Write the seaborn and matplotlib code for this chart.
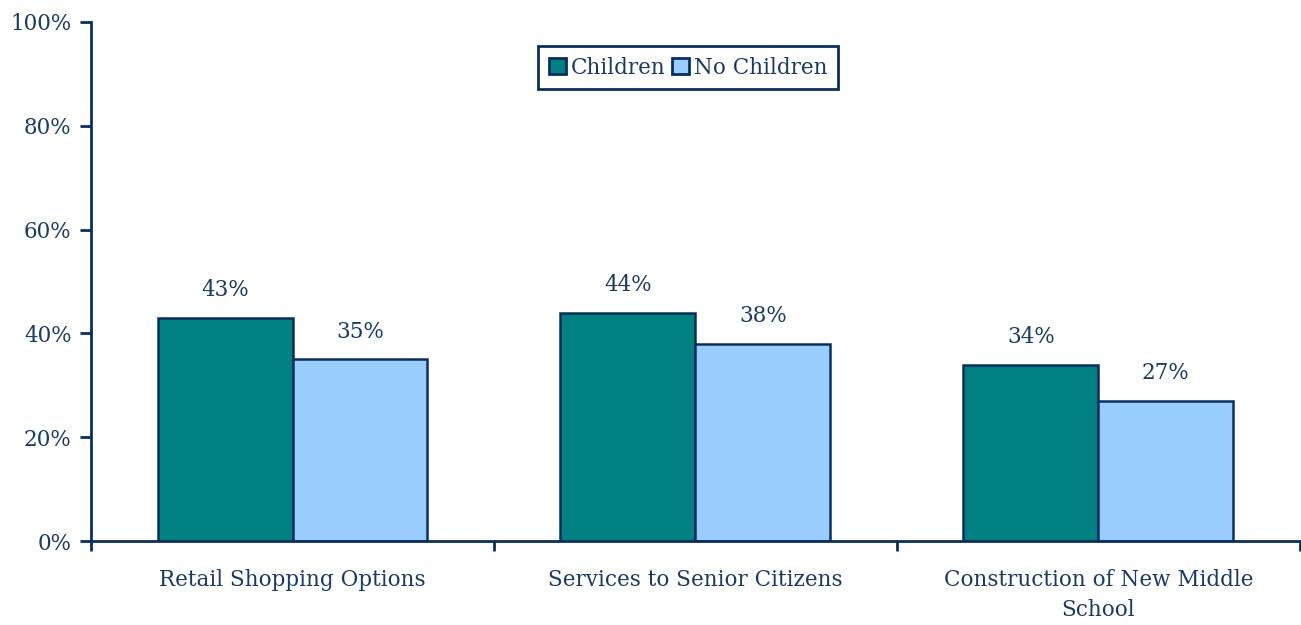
import numpy as np
import pandas as pd
import matplotlib.pyplot as plt
import seaborn as sns

# data
categories = ["Retail Shopping Options", "Services to Senior Citizens", "Construction of New Middle\nSchool"]
children = [43, 44, 34]
no_children = [35, 38, 27]
groups = ["Children", "No Children"]

df = pd.DataFrame({
    "Category": categories * 2,
    "Group": [groups[0]] * 3 + [groups[1]] * 3,
    "Value": children + no_children,
})

sns.set_style("white")
plt.rcParams['font.family'] = ['DejaVu Serif']

navy = "#0B2F5B"
text_col = "#1B3A63"
fs = 15.5

fig = plt.figure(figsize=(13.01, 6.25), dpi=100)
ax = fig.add_axes([0.070, 0.1344, 0.929, 0.8304])

sns.barplot(data=df, x="Category", y="Value", hue="Group",
            palette=["#008080", "#99CCFF"], width=0.67,
            edgecolor=navy, linewidth=1.8, ax=ax, saturation=1)

for c in ax.containers:
    ax.bar_label(c, labels=[f"{v:.0f}%" for v in c.datavalues],
                 padding=12, fontsize=fs, color=text_col)

ax.set_xlim(-0.5, 2.5)
ax.set_ylim(0, 100)
ax.set_yticks(np.arange(0, 101, 20))
ax.set_yticklabels([f"{v}%" for v in range(0, 101, 20)], fontsize=fs, color=text_col)
ax.set_xticks(range(3))
ax.set_xticklabels(categories, fontsize=fs, color=text_col, linespacing=1.5)
ax.set_xticks([-0.5, 0.5, 1.5, 2.5], minor=True)
ax.tick_params(axis="x", which="major", length=0, pad=20)
ax.tick_params(axis="x", which="minor", length=7, width=2, color=navy, direction="out", bottom=True)
ax.tick_params(axis="y", length=8, width=2, color=navy, direction="out", left=True, pad=6)
ax.set_xlabel("")
ax.set_ylabel("")

for s in ["top", "right"]:
    ax.spines[s].set_visible(False)
for s in ["left", "bottom"]:
    ax.spines[s].set_color(navy)
    ax.spines[s].set_linewidth(2)

leg = ax.legend(loc="center", bbox_to_anchor=(0.494, 0.912), ncol=2, frameon=True,
                fancybox=False, framealpha=1, fontsize=fs, handlelength=0.8, handleheight=0.8,
                handletextpad=0.2, columnspacing=0.3, borderpad=0.5)
leg.get_frame().set_edgecolor(navy)
leg.get_frame().set_linewidth(2)
for t in leg.get_texts():
    t.set_color(text_col)
for h in leg.legend_handles:
    h.set_edgecolor(navy)
    h.set_linewidth(2)

fig.savefig("out.png", dpi=100)
